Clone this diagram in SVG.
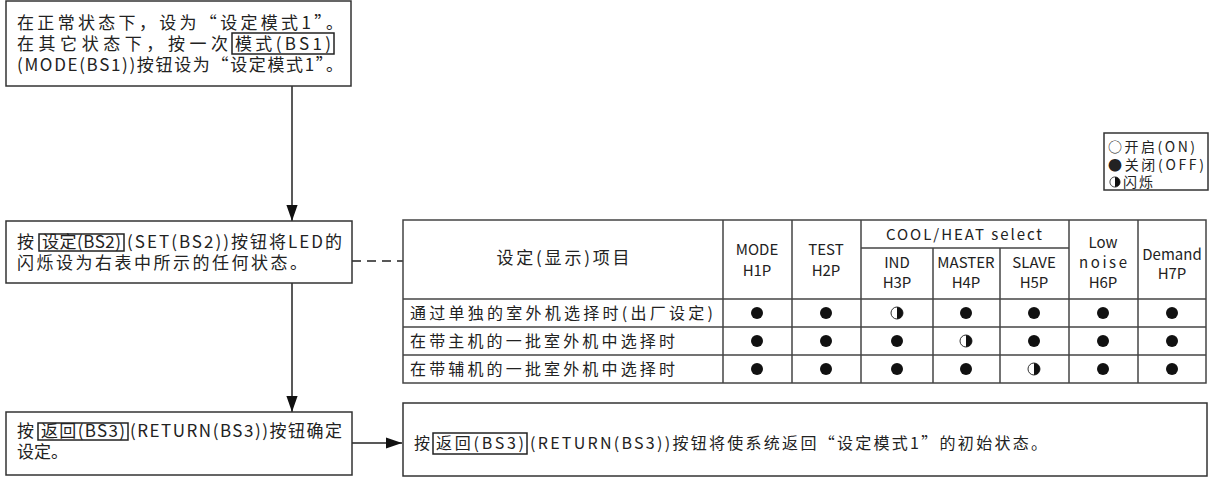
<svg xmlns="http://www.w3.org/2000/svg" width="1209" height="477" viewBox="0 0 1209 477">
<style>
.bx{fill:#fff;stroke:#333;stroke-width:1.5}
.hl{fill:none;stroke:#222;stroke-width:1.5}
.t{font-family:"Noto Sans CJK SC","Liberation Sans",sans-serif;font-size:17px;fill:#222}
.m{font-family:"Noto Sans CJK SC","Liberation Sans",sans-serif;font-size:16px;fill:#222}
.s{font-family:"Noto Sans CJK SC","Liberation Sans",sans-serif;font-size:15px;fill:#222}
.g{font-family:"Noto Sans CJK SC","Liberation Sans",sans-serif;font-size:14px;fill:#222}
.c{text-anchor:middle}
.ln{stroke:#222;stroke-width:1.5;fill:none}
.tl{stroke:#444;stroke-width:1.5;fill:none}
.dot{fill:#111}
</style>
<defs>
<marker id="ah" viewBox="0 0 10 10" refX="10" refY="5" markerWidth="16" markerHeight="16" markerUnits="userSpaceOnUse" orient="auto"><path d="M0,1.5 L10,5 L0,8.5 Z" fill="#111"/></marker>
<g id="half"><circle r="6" fill="#fff" stroke="#333" stroke-width="1"/><path d="M0,-6 A6,6 0 0 1 0,6 Z" fill="#111"/></g>
</defs>
<rect width="1209" height="477" fill="#fff"/>

<g id="connectors">
<line class="ln" x1="292" y1="86" x2="292" y2="221" marker-end="url(#ah)"/>
<line class="ln" x1="292" y1="283" x2="292" y2="412" marker-end="url(#ah)"/>
<line class="ln" x1="352" y1="261" x2="403" y2="261" stroke-dasharray="9,6"/>
<line class="ln" x1="352" y1="443" x2="402" y2="443" marker-end="url(#ah)"/>
</g>

<g id="node-mode1">
<rect class="bx" x="6" y="1" width="345" height="85"/>
<text class="t" x="17" y="29" textLength="326">在正常状态下，设为“设定模式1”。</text>
<text class="t" x="17" y="50" textLength="211">在其它状态下，按一次</text>
<rect class="hl" x="232" y="33" width="102" height="21"/>
<text class="t" x="235" y="50" textLength="96">模式(BS1)</text>
<text class="t" x="17" y="71" textLength="326">(MODE(BS1))按钮设为“设定模式1”。</text>
</g>

<g id="node-set">
<rect class="bx" x="6" y="221" width="346" height="62"/>
<text class="t" x="17" y="248">按</text>
<rect class="hl" x="39" y="234" width="85" height="17"/>
<text class="t" x="42" y="248" textLength="79">设定(BS2)</text>
<text class="t" x="127" y="248" textLength="215">(SET(BS2))按钮将LED的</text>
<text class="t" x="17" y="269" textLength="290">闪烁设为右表中所示的任何状态。</text>
</g>

<g id="node-return">
<rect class="bx" x="6" y="412" width="346" height="63"/>
<text class="t" x="17" y="437">按</text>
<rect class="hl" x="38" y="423" width="90" height="17"/>
<text class="t" x="41" y="437" textLength="84">返回(BS3)</text>
<text class="t" x="130" y="437" textLength="212">(RETURN(BS3))按钮确定</text>
<text class="t" x="17" y="458">设定。</text>
</g>

<g id="node-result">
<rect class="bx" x="403" y="403" width="804" height="73"/>
<text class="m" x="414" y="449">按</text>
<rect class="hl" x="433" y="433" width="94" height="21"/>
<text class="m" x="436" y="449" textLength="88">返回(BS3)</text>
<text class="m" x="530" y="449" textLength="517">(RETURN(BS3))按钮将使系统返回“设定模式1”的初始状态。</text>
</g>

<g id="node-legend">
<rect class="bx" x="1104" y="133" width="104" height="57"/>
<text class="g" x="1108" y="152" textLength="87">○开启(ON)</text>
<text class="g" x="1108" y="170" textLength="96">●关闭(OFF)</text>
<use href="#half" transform="translate(1115,182) scale(0.85)"/>
<text class="g" x="1123" y="187" textLength="30">闪烁</text>
</g>

<g id="node-table">
<rect class="tl" x="403" y="220" width="803" height="163" fill="#fff"/>
<line class="tl" x1="403" y1="299" x2="1206" y2="299"/>
<line class="tl" x1="403" y1="327" x2="1206" y2="327"/>
<line class="tl" x1="403" y1="355" x2="1206" y2="355"/>
<line class="tl" x1="723" y1="220" x2="723" y2="383"/>
<line class="tl" x1="792" y1="220" x2="792" y2="383"/>
<line class="tl" x1="861" y1="220" x2="861" y2="383"/>
<line class="tl" x1="933" y1="248" x2="933" y2="383"/>
<line class="tl" x1="1000" y1="248" x2="1000" y2="383"/>
<line class="tl" x1="1069" y1="220" x2="1069" y2="383"/>
<line class="tl" x1="1138" y1="220" x2="1138" y2="383"/>
<line class="tl" x1="861" y1="248" x2="1069" y2="248"/>

<text class="t c" x="563" y="264" textLength="133">设定(显示)项目</text>
<text class="s c" x="757" y="255">MODE</text>
<text class="s c" x="757" y="276">H1P</text>
<text class="s c" x="826" y="255">TEST</text>
<text class="s c" x="826" y="276">H2P</text>
<text class="s c" x="964" y="240" textLength="156">COOL/HEAT select</text>
<text class="s c" x="897" y="268">IND</text>
<text class="s c" x="897" y="288">H3P</text>
<text class="s c" x="966" y="268">MASTER</text>
<text class="s c" x="966" y="288">H4P</text>
<text class="s c" x="1034" y="268">SLAVE</text>
<text class="s c" x="1034" y="288">H5P</text>
<text class="s c" x="1103" y="248">Low</text>
<text class="s c" x="1103" y="268" textLength="48">noise</text>
<text class="s c" x="1103" y="288">H6P</text>
<text class="s c" x="1172" y="260">Demand</text>
<text class="s c" x="1172" y="279">H7P</text>

<text class="m" x="410" y="319" textLength="303">通过单独的室外机选择时(出厂设定)</text>
<text class="m" x="410" y="347" textLength="265">在带主机的一批室外机中选择时</text>
<text class="m" x="410" y="375" textLength="265">在带辅机的一批室外机中选择时</text>

<circle class="dot" cx="757" cy="313" r="6"/><circle class="dot" cx="826" cy="313" r="6"/>
<use href="#half" transform="translate(897,313)"/>
<circle class="dot" cx="966" cy="313" r="6"/><circle class="dot" cx="1034" cy="313" r="6"/>
<circle class="dot" cx="1103" cy="313" r="6"/><circle class="dot" cx="1172" cy="313" r="6"/>

<circle class="dot" cx="757" cy="341" r="6"/><circle class="dot" cx="826" cy="341" r="6"/>
<circle class="dot" cx="897" cy="341" r="6"/>
<use href="#half" transform="translate(966,341)"/>
<circle class="dot" cx="1034" cy="341" r="6"/>
<circle class="dot" cx="1103" cy="341" r="6"/><circle class="dot" cx="1172" cy="341" r="6"/>

<circle class="dot" cx="757" cy="369" r="6"/><circle class="dot" cx="826" cy="369" r="6"/>
<circle class="dot" cx="897" cy="369" r="6"/><circle class="dot" cx="966" cy="369" r="6"/>
<use href="#half" transform="translate(1034,369)"/>
<circle class="dot" cx="1103" cy="369" r="6"/><circle class="dot" cx="1172" cy="369" r="6"/>
</g>
</svg>
